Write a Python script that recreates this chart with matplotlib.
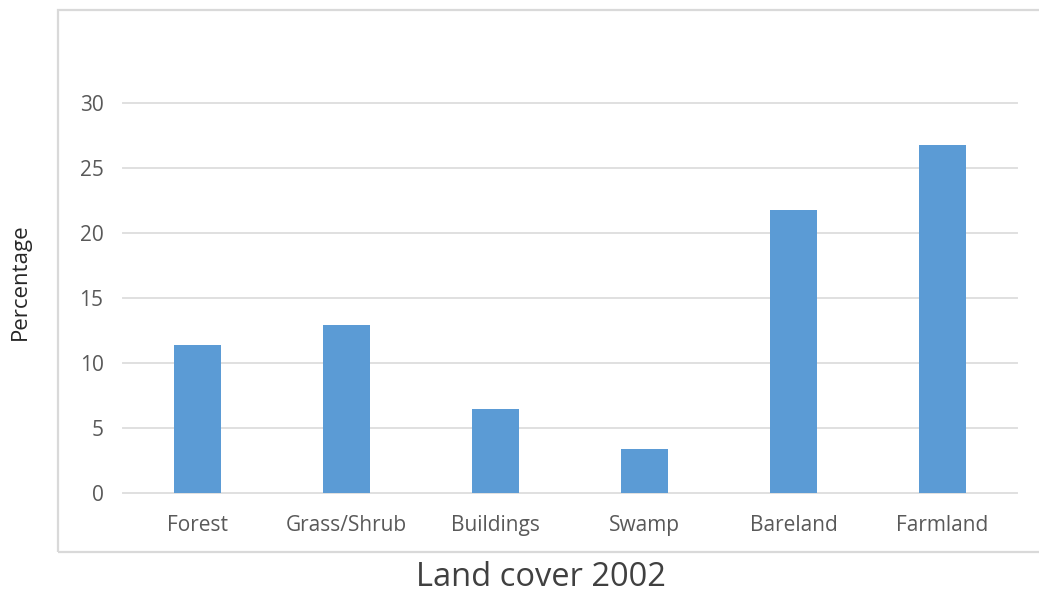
import matplotlib
matplotlib.use('Agg')
import matplotlib.pyplot as plt
from matplotlib.patches import Rectangle

categories = ["Forest", "Grass/Shrub", "Buildings", "Swamp", "Bareland", "Farmland"]
percentages = [11.4, 12.9, 6.5, 3.4, 21.8, 26.8]
y_ticks = [0, 5, 10, 15, 20, 25, 30]

plt.rcParams['font.family'] = ['Open Sans', 'DejaVu Sans']

W, H = 1039, 592
fig = plt.figure(figsize=(W / 100, H / 100), dpi=100)
fig.patch.set_facecolor('white')

# light chart-area frame, running off the right edge
fig.patches.append(Rectangle((58 / W, 1 - 552 / H), 1.0, (552 - 10) / H,
                             transform=fig.transFigure, fill=False,
                             edgecolor='#d9d9d9', linewidth=1.6))

ax = fig.add_axes([123 / W, 1 - 493 / H, (1017 - 123) / W, (493 - 103) / H])
x = range(len(categories))
ax.bar(x, percentages, width=0.31, color='#5b9bd5', zorder=3)

ax.set_xlim(-0.5, len(categories) - 0.5)
ax.set_ylim(0, 30)
ax.set_yticks(y_ticks)
ax.set_xticks(list(x))
ax.set_xticklabels(categories)
for y in y_ticks:
    ax.axhline(y, color='#e0e0e0', linewidth=1.4, zorder=1, clip_on=False)
for s in ax.spines.values():
    s.set_visible(False)
ax.tick_params(axis='both', length=0, colors='#595959', labelsize=15)
ax.tick_params(axis='x', pad=16)
ax.tick_params(axis='y', pad=14)

fig.text(20 / W, 1 - 282 / H, "Percentage", rotation=90, ha='center',
         va='center', fontsize=16, color='#262626')
fig.text(541 / W, 1 - 577 / H, "Land cover 2002", ha='center', va='center',
         fontsize=23.5, color='#404040')

fig.savefig('out.png', dpi=100)
